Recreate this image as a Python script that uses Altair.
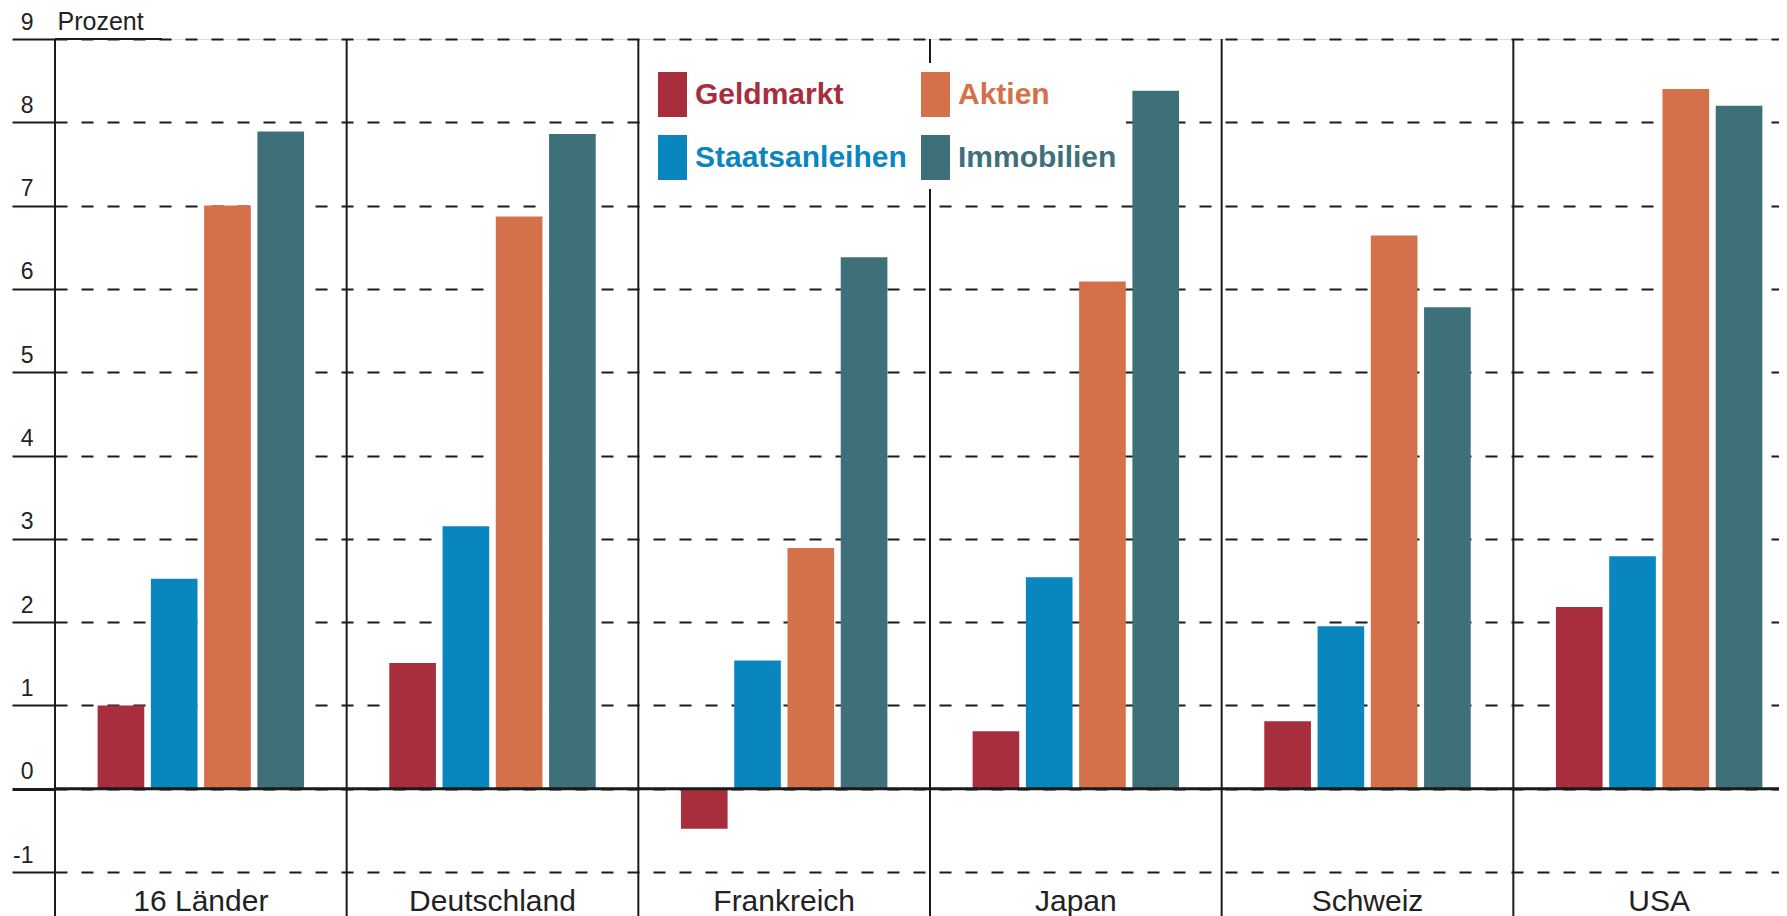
import altair as alt
import pandas as pd

# ---- data ----
countries = ["16 Länder", "Deutschland", "Frankreich", "Japan", "Schweiz", "USA"]
categories = ["Geldmarkt", "Staatsanleihen", "Aktien", "Immobilien"]
colors = ["#a82e3e", "#0a86bf", "#d4714a", "#3e707a"]

geldmarkt = [1.00, 1.51, -0.48, 0.69, 0.81, 2.18]
staatsanleihen = [2.52, 3.15, 1.54, 2.54, 1.95, 2.79]
aktien = [7.00, 6.87, 2.89, 6.09, 6.64, 8.40]
immobilien = [7.89, 7.86, 6.38, 8.38, 5.78, 8.20]

y_ticks = [-1, 0, 1, 2, 3, 4, 5, 6, 7, 8, 9]
y_unit_label = "Prozent"

series = {
    "Geldmarkt": geldmarkt,
    "Staatsanleihen": staatsanleihen,
    "Aktien": aktien,
    "Immobilien": immobilien,
}
rows = [
    {"Land": c, "Anlage": k, "Rendite": v}
    for k, vals in series.items()
    for c, v in zip(countries, vals)
]
df = pd.DataFrame(rows)

FONT = "Liberation Sans"
INK = "#1a1a1a"

x_scale = alt.Scale(domain=countries, range=[0, 1750], paddingInner=0, paddingOuter=0)
y_scale = alt.Scale(domain=[-1.528, 9], nice=False, zero=False)
color_scale = alt.Scale(domain=categories, range=colors)

y_axis = alt.Axis(
    values=y_ticks,
    labelExpr="toString(datum.value)",
    title=y_unit_label,
    titleAngle=0,
    titleX=2,
    titleY=-9.3,
    titleAlign="left",
    titleBaseline="alphabetic",
    titleFont=FONT,
    titleFontSize=25,
    titleFontWeight="normal",
    titleColor="#222222",
    grid=True,
    gridDash=[12, 14],
    gridColor=INK,
    gridWidth=2,
    domain=False,
    ticks=True,
    tickSize=43,
    tickColor=INK,
    tickWidth={"condition": {"test": "datum.value === 0", "value": 3}, "value": 1.8},
    labelAlign="right",
    labelBaseline="alphabetic",
    labelPadding=-21,
    labelOffset=-10,
    labelFont=FONT,
    labelFontSize=23,
    labelColor="#222222",
    labelFlush=False,
    labelOverlap=False,
)

x_axis = alt.Axis(
    title=None,
    orient="bottom",
    grid=False,
    ticks=False,
    tickSize=0,
    domain=False,
    labelAngle=0,
    labelPadding=-6,
    labelBaseline="alphabetic",
    labelFont=FONT,
    labelFontSize=30,
    labelColor="#222222",
    labelLimit=400,
)

legend = alt.Legend(
    orient="none",
    legendX=586,
    legendY=24,
    columns=2,
    title=None,
    symbolType="M-0.644,-1H0.644V1H-0.644Z",
    symbolSize=2025,
    symbolStrokeWidth=0,
    symbolOpacity=1,
    labelFont=FONT,
    labelFontSize=30,
    labelFontWeight="bold",
    labelColor=alt.ExprRef(expr="scale('color', datum.value)"),
    labelOffset=0,
    labelLimit=400,
    columnPadding=6,
    rowPadding=18,
    padding=9,
    fillColor="white",
)

bars = alt.Chart(df).mark_bar().encode(
    x=alt.X("Land:N", scale=x_scale, axis=x_axis),
    xOffset=alt.XOffset(
        "Anlage:N",
        scale=alt.Scale(domain=categories, paddingInner=0.124, paddingOuter=0.8),
    ),
    y=alt.Y("Rendite:Q", scale=y_scale, axis=y_axis),
    color=alt.Color("Anlage:N", scale=color_scale, legend=legend),
)

separators = alt.Chart(pd.DataFrame({"Land": countries})).mark_rule(
    color=INK, strokeWidth=2
).encode(x=alt.X("Land:N", bandPosition=0))

zero_line = alt.Chart(pd.DataFrame({"Rendite": [0]})).mark_rule(
    color=INK, strokeWidth=3
).encode(y=alt.Y("Rendite:Q"))

top_line = alt.Chart(pd.DataFrame({"Rendite": [9]})).mark_rule(
    color=INK, strokeWidth=2
).encode(y=alt.Y("Rendite:Q"), x=alt.value(0), x2=alt.value(107))

chart = (
    alt.layer(bars, separators, zero_line, top_line)
    .properties(
        width=1724,
        height=877,
        autosize=alt.AutoSizeParams(type="none"),
        padding={"left": 47, "top": 31, "right": 0, "bottom": 0},
    )
    .configure_view(stroke=None)
    .configure(background="white")
)

chart.save("out.html", embed_options={"renderer": "svg", "actions": False})
